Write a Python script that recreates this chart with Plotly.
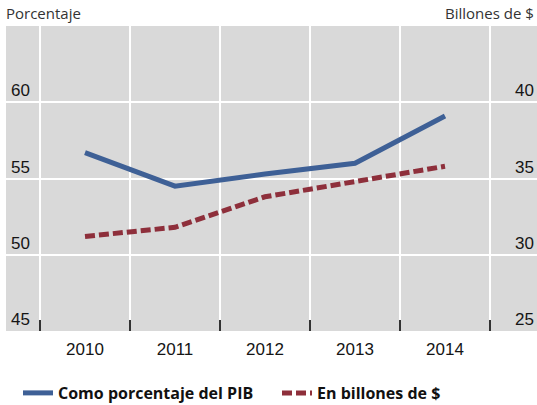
import plotly.graph_objects as go

years = [2010, 2011, 2012, 2013, 2014]
year_labels = ["2010", "2011", "2012", "2013", "2014"]
pct_gdp = [56.7, 54.5, 55.3, 56.0, 59.1]
billions = [31.2, 31.8, 33.8, 34.8, 35.8]
left_ticks = [45, 50, 55, 60]
right_ticks = [25, 30, 35, 40]
boundaries = [2009.5, 2010.5, 2011.5, 2012.5, 2013.5, 2014.5]

BLUE = "#3E6096"
RED = "#8E2F3B"
GRAY = "#D9D9D9"

fig = go.Figure()
fig.add_trace(go.Scatter(
    x=years, y=pct_gdp, mode="lines", name="Como porcentaje del PIB",
    line=dict(color=BLUE, width=5), yaxis="y"))
fig.add_trace(go.Scatter(
    x=years, y=billions, mode="lines", name="En billones de $",
    line=dict(color=RED, width=5, dash="10px,4px"), yaxis="y2"))

tick_font = dict(family="Liberation Sans, Arial", size=17, color="#151515")

fig.update_layout(
    width=537, height=405,
    margin=dict(l=6, r=0, t=26, b=74, autoexpand=False),
    paper_bgcolor="white", plot_bgcolor=GRAY,
    showlegend=True,
    legend=dict(orientation="h", x=0.0226, y=-0.1475, xanchor="left", yanchor="top",
                font=dict(family="Open Sans", size=16, color="#111", weight="bold"),
                entrywidth=214, bgcolor="rgba(0,0,0,0)", itemwidth=30,
                tracegroupgap=0),
    xaxis=dict(
        range=[2009.1222, 2015.0222], tickmode="array", tickvals=years,
        ticktext=year_labels, showgrid=False, zeroline=False, ticks="",
        tickfont=tick_font, ticklabelstandoff=6,
        minor=dict(tickmode="array", tickvals=boundaries, showgrid=True,
                   gridcolor="white", gridwidth=2, ticks="inside", ticklen=11,
                   tickwidth=1.5, tickcolor="#333"),
        showline=False, fixedrange=True),
    yaxis=dict(
        range=[45, 65], tickmode="array", tickvals=left_ticks,
        showgrid=True, gridcolor="white", gridwidth=2, zeroline=False,
        ticklabelposition="inside top", tickfont=tick_font, ticks="",
        ticklabelstandoff=2),
    yaxis2=dict(
        range=[25, 45], tickmode="array", tickvals=right_ticks,
        overlaying="y", side="right", showgrid=False, zeroline=False,
        ticklabelposition="inside top", tickfont=tick_font, ticks=""),
    annotations=[
        dict(text="Porcentaje", x=0, y=1.0426, xref="paper", yref="paper",
             xanchor="left", yanchor="middle", showarrow=False, xshift=-2,
             font=dict(family="Open Sans", size=15, color="#333")),
        dict(text="Billones de $", x=1, y=1.0426, xref="paper", yref="paper",
             xanchor="right", yanchor="middle", showarrow=False, xshift=-1,
             font=dict(family="Open Sans", size=15, color="#333")),
    ],
)

fig.write_html("out.html")
